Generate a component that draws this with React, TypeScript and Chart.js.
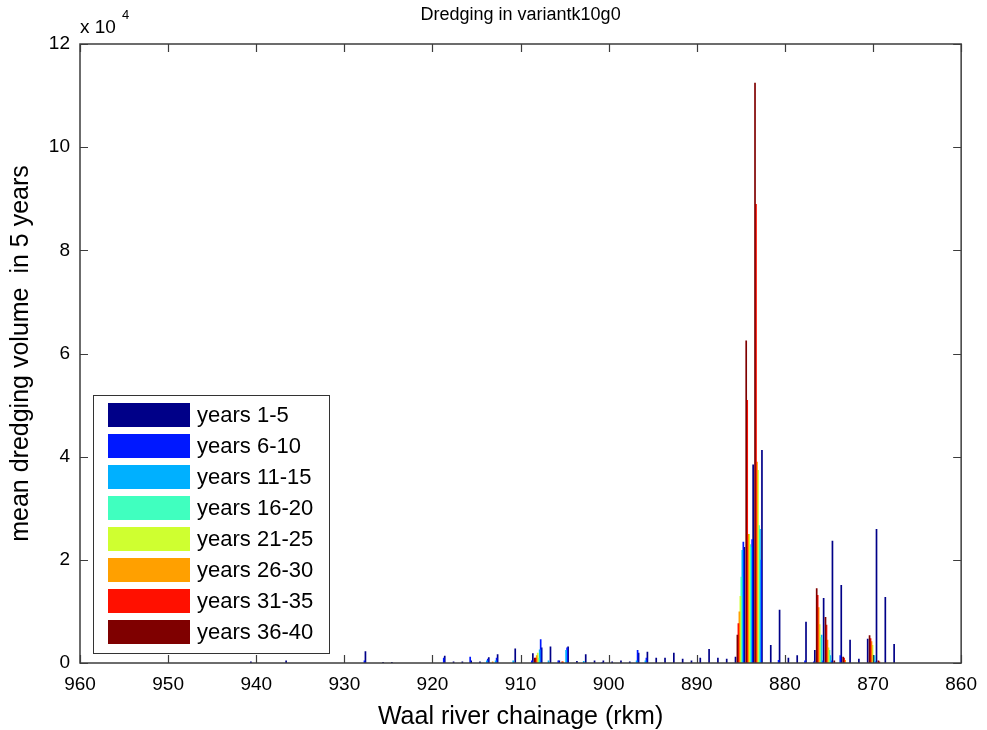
import React, { useEffect, useRef } from 'react';
import { Chart, registerables } from 'chart.js';

Chart.register(...registerables);

// Waal river chainage (rkm) of each group of bars
const rkm = [
  941, 937, 928, 926, 925, 919, 918, 917, 916, 915,
  914, 913, 911, 909, 908, 907, 906, 905, 904, 903,
  902, 901, 900, 899, 898, 897, 896, 895, 894, 893,
  892, 891, 890, 889, 888, 887, 886, 885, 884, 883,
  882, 881, 880, 879, 878, 877, 876, 875, 874, 873,
  872, 871, 870, 869, 868,
];

// mean dredging volume in 5 years (m3)
const years1to5 = [
  300, 500, 2300, 200, 200, 1400, 300, 300, 500, 300,
  1100, 1700, 2800, 1900, 3000, 3200, 500, 3200, 400, 1700,
  500, 500, 300, 500, 300, 2000, 2200, 1000, 1000, 2000,
  800, 500, 1000, 2700, 1000, 800, 1200, 22500, 38500, 41300,
  3500, 10300, 1000, 1500, 8000, 2500, 12600, 23700, 15100, 4500,
  800, 4700, 26000, 12800, 3700,
];
const years6to10 = [
  0, 0, 500, 0, 0, 1000, 0, 0, 1200, 0,
  800, 1000, 0, 500, 4600, 0, 500, 3000, 0, 0,
  0, 200, 0, 0, 0, 2500, 1000, 0, 0, 0,
  0, 0, 0, 0, 0, 0, 0, 23500, 24000, 20000,
  0, 600, 0, 0, 500, 300, 500, 500, 1500, 0,
  0, 0, 300, 0, 0,
];
const years11to15 = [
  0, 0, 0, 0, 0, 0, 0, 0, 0, 0,
  500, 500, 500, 0, 2600, 500, 0, 2500, 0, 400,
  0, 0, 0, 0, 0, 500, 500, 0, 0, 0,
  0, 0, 0, 0, 0, 0, 0, 21900, 22500, 26000,
  0, 0, 0, 0, 0, 0, 5500, 1500, 0, 0,
  0, 0, 1500, 0, 0,
];
const years16to20 = [
  0, 0, 0, 0, 0, 0, 0, 0, 0, 0,
  0, 0, 0, 0, 1000, 0, 0, 0, 0, 0,
  0, 0, 0, 0, 0, 0, 0, 0, 0, 0,
  0, 0, 0, 0, 0, 0, 0, 16700, 23000, 26700,
  0, 0, 0, 0, 0, 0, 5000, 2500, 0, 0,
  0, 0, 1500, 0, 0,
];
const years21to25 = [
  0, 0, 0, 0, 0, 0, 0, 0, 0, 0,
  0, 0, 0, 0, 2000, 0, 0, 0, 0, 0,
  0, 0, 0, 0, 0, 0, 0, 0, 0, 0,
  0, 0, 0, 0, 0, 0, 0, 13000, 25000, 37400,
  0, 0, 0, 0, 0, 0, 7500, 3000, 0, 0,
  0, 0, 3500, 0, 0,
];
const years26to30 = [
  0, 0, 0, 0, 0, 0, 0, 0, 0, 0,
  0, 300, 0, 0, 1500, 0, 0, 300, 0, 0,
  0, 0, 0, 0, 0, 0, 0, 0, 0, 0,
  0, 0, 0, 0, 0, 0, 0, 10000, 25000, 39000,
  0, 0, 0, 0, 0, 0, 10800, 4500, 0, 600,
  0, 0, 4200, 0, 0,
];
const years31to35 = [
  0, 0, 0, 0, 0, 0, 0, 0, 0, 0,
  0, 0, 0, 0, 1000, 0, 0, 300, 0, 0,
  0, 0, 0, 0, 0, 0, 0, 0, 0, 0,
  0, 0, 0, 0, 0, 0, 0, 7700, 51000, 89000,
  0, 0, 0, 0, 0, 0, 13200, 7400, 0, 1000,
  0, 0, 4800, 300, 0,
];
const years36to40 = [
  0, 0, 0, 0, 0, 0, 0, 0, 0, 0,
  0, 0, 0, 0, 1000, 0, 0, 0, 0, 0,
  0, 0, 0, 0, 0, 0, 0, 0, 0, 0,
  0, 0, 0, 0, 0, 0, 0, 5500, 62500, 112500,
  0, 0, 0, 0, 0, 0, 14500, 8900, 500, 1200,
  0, 0, 5400, 500, 0,
];

const seriesLabels = [
  'years 1-5', 'years 6-10', 'years 11-15', 'years 16-20',
  'years 21-25', 'years 26-30', 'years 31-35', 'years 36-40',
];
const seriesValues = [
  years1to5, years6to10, years11to15, years16to20,
  years21to25, years26to30, years31to35, years36to40,
];
const seriesColors = [
  '#000088', '#0018FF', '#00B0FF', '#40FFBF',
  '#CFFF30', '#FFA000', '#FF1000', '#7F0000',
];

const titleText = 'Dredging in variantk10g0';
const xTitle = 'Waal river chainage (rkm)';
const yTitle = 'mean dredging volume  in 5 years';
const FONT = '"Liberation Sans", Arial, Helvetica, sans-serif';

const decorPlugin = {
  id: 'matlabDecor',
  afterDraw(chart: any) {
    const ctx = chart.ctx;
    const { left, right, top, bottom } = chart.chartArea;
    const xs = chart.scales.x;
    const ys = chart.scales.y;
    ctx.save();
    // axes box
    ctx.strokeStyle = '#3c3c3c';
    ctx.lineWidth = 1.5;
    ctx.strokeRect(left, top, right - left, bottom - top);
    // inward ticks
    ctx.lineWidth = 1.2;
    const tl = 8;
    xs.ticks.forEach((t: any) => {
      const p = Math.round(xs.getPixelForValue(t.value)) + 0.5;
      ctx.beginPath();
      ctx.moveTo(p, bottom); ctx.lineTo(p, bottom - tl);
      ctx.moveTo(p, top); ctx.lineTo(p, top + tl);
      ctx.stroke();
    });
    ys.ticks.forEach((t: any) => {
      const p = Math.round(ys.getPixelForValue(t.value)) + 0.5;
      ctx.beginPath();
      ctx.moveTo(left, p); ctx.lineTo(left + tl, p);
      ctx.moveTo(right, p); ctx.lineTo(right - tl, p);
      ctx.stroke();
    });
    // exponent label
    ctx.fillStyle = '#000';
    ctx.textBaseline = 'alphabetic';
    ctx.textAlign = 'left';
    ctx.font = `19px ${FONT}`;
    ctx.fillText('x 10', left, top - 11);
    const w = ctx.measureText('x 10').width;
    ctx.font = `13px ${FONT}`;
    ctx.fillText('4', left + w + 6, top - 25);
    // title
    ctx.font = `18px ${FONT}`;
    ctx.textAlign = 'center';
    ctx.textBaseline = 'middle';
    ctx.fillText(titleText, (left + right) / 2, 15);
    // legend
    const lx = 93, ly = 395, lw = 236, lh = 258;
    ctx.fillStyle = '#fff';
    ctx.fillRect(lx, ly, lw, lh);
    ctx.strokeStyle = '#333';
    ctx.lineWidth = 1;
    ctx.strokeRect(lx + 0.5, ly + 0.5, lw, lh);
    ctx.font = `22px ${FONT}`;
    ctx.textAlign = 'left';
    ctx.textBaseline = 'middle';
    seriesLabels.forEach((label, i) => {
      const cy = 415 + i * 31;
      ctx.fillStyle = seriesColors[i];
      ctx.fillRect(108, cy - 12, 82, 24);
      ctx.fillStyle = '#000';
      ctx.fillText(label, 197, cy + 1);
    });
    ctx.restore();
  },
};

export default function App() {
  const ref = useRef<HTMLCanvasElement | null>(null);
  useEffect(() => {
    document.body.style.margin = '0';
    const canvas = ref.current;
    if (!canvas) return;
    // dark red first so that it is left-most in each group on the reversed axis
    const order = [7, 6, 5, 4, 3, 2, 1, 0];
    const datasets = order.map((s) => ({
      label: seriesLabels[s],
      data: rkm.map((x, i) => ({ x, y: seriesValues[s][i] })),
      backgroundColor: seriesColors[s],
      borderWidth: 0,
      barPercentage: 1.7,
      categoryPercentage: 0.9,
    }));
    const chart = new Chart(canvas, {
      type: 'bar',
      data: { datasets },
      options: {
        responsive: false,
        animation: false,
        events: [],
        layout: { padding: { top: 44, right: 22, left: 0, bottom: 0 } },
        plugins: {
          legend: { display: false },
          title: { display: false },
          tooltip: { enabled: false },
        },
        scales: {
          x: {
            type: 'linear',
            min: 860,
            max: 960,
            reverse: true,
            offset: false,
            grid: { display: false, offset: false, drawTicks: false },
            border: { display: false },
            ticks: {
              stepSize: 10,
              autoSkip: false,
              maxRotation: 0,
              padding: 10,
              color: '#000',
              font: { family: FONT, size: 19 },
              callback: (v: any) => String(v),
            },
            title: {
              display: true,
              text: xTitle,
              color: '#000',
              font: { family: FONT, size: 25, lineHeight: 1 },
              padding: { top: 0, bottom: 0 },
            },
            afterFit: (s: any) => { s.height = 67; },
          },
          y: {
            type: 'linear',
            min: 0,
            max: 120000,
            grid: { display: false, drawTicks: false },
            border: { display: false },
            ticks: {
              stepSize: 20000,
              padding: 10,
              color: '#000',
              font: { family: FONT, size: 19 },
              callback: (v: any) => String(v / 10000),
            },
            title: {
              display: true,
              text: yTitle,
              color: '#000',
              font: { family: FONT, size: 25, lineHeight: 1 },
              padding: { top: 9, bottom: 0 },
            },
            afterFit: (s: any) => { s.width = 80; },
          },
        },
      },
      plugins: [decorPlugin],
    });
    return () => chart.destroy();
  }, []);
  return (
    <div style={{ position: 'absolute', left: 0, top: 0 }}>
      <canvas ref={ref} width={987} height={730} style={{ display: 'block' }} />
    </div>
  );
}
